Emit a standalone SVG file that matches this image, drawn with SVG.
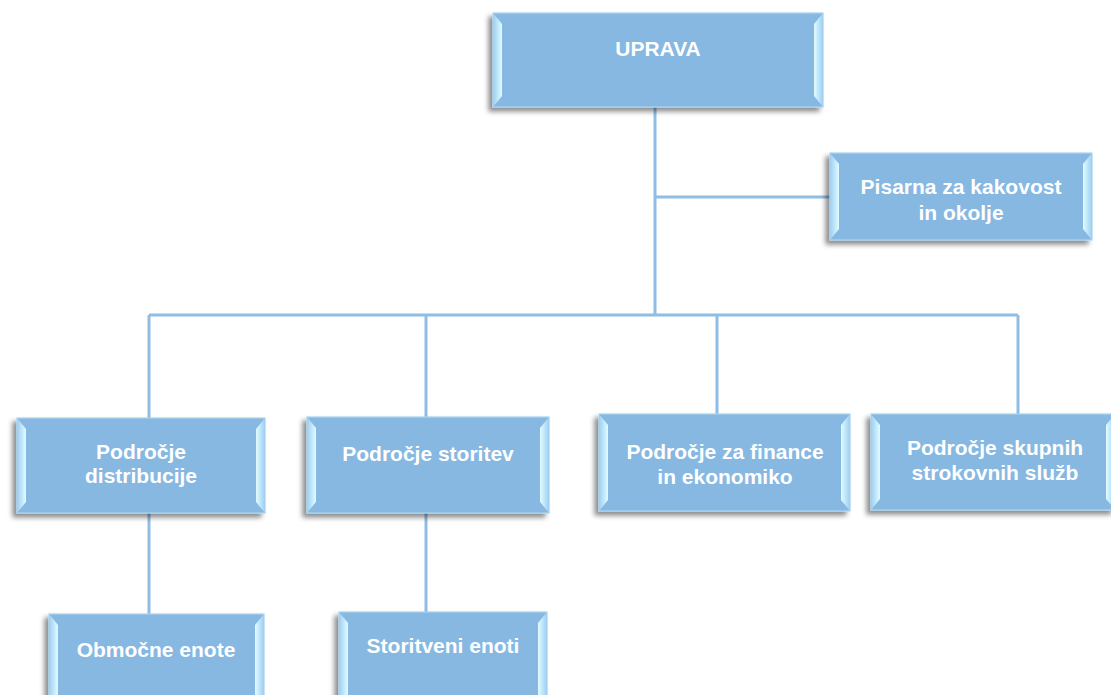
<svg xmlns="http://www.w3.org/2000/svg" width="1111" height="695" viewBox="0 0 1111 695">
<defs>
<filter id="sh" x="-10%" y="-20%" width="120%" height="150%">
<feGaussianBlur in="SourceAlpha" stdDeviation="2.5"/>
<feOffset dx="-4" dy="4" result="b"/>
<feFlood flood-color="#000" flood-opacity="0.45"/>
<feComposite in2="b" operator="in"/>
<feMerge><feMergeNode/><feMergeNode in="SourceGraphic"/></feMerge>
</filter>
<linearGradient id="bevL" x1="0" y1="0" x2="1" y2="0">
<stop offset="0" stop-color="#9fcdf0"/>
<stop offset="0.6" stop-color="#c4ebfc"/>
<stop offset="1" stop-color="#e2fbff"/>
</linearGradient>
<linearGradient id="bevR" x1="1" y1="0" x2="0" y2="0">
<stop offset="0" stop-color="#9fcdf0"/>
<stop offset="0.6" stop-color="#c4ebfc"/>
<stop offset="1" stop-color="#e2fbff"/>
</linearGradient>
<style>
.box{fill:#86b8e2;stroke:#a8d4f2;stroke-width:1.2}
.bl{fill:url(#bevL)}
.br{fill:url(#bevR)}
.t{font-family:"Liberation Sans",Arial,sans-serif;font-weight:bold;font-size:21px;fill:#ffffff;text-anchor:middle}
.c{stroke:#8ebde5;stroke-width:3;fill:none}
</style>
</defs>
<rect width="1111" height="695" fill="#ffffff"/>
<g id="connectors">
<path class="c" d="M655 107V315"/>
<path class="c" d="M655 197H832"/>
<path class="c" d="M149 315H1018"/>
<path class="c" d="M149 315V418"/>
<path class="c" d="M426 315V417"/>
<path class="c" d="M717 315V414"/>
<path class="c" d="M1018 315V414"/>
<path class="c" d="M149 513V614"/>
<path class="c" d="M426 513V612"/>
</g>
<g id="uprava">
<rect class="box" x="493" y="13" width="330" height="94" filter="url(#sh)"/>
<polygon class="bl" points="493,13 502,24 502,96 493,107"/>
<polygon class="br" points="823,13 814,24 814,96 823,107"/>
<text class="t" x="658" y="56">UPRAVA</text>
</g>
<g id="pisarna">
<rect class="box" x="830" y="153" width="262" height="87" filter="url(#sh)"/>
<polygon class="bl" points="830,153 839,164 839,229 830,240"/>
<polygon class="br" points="1092,153 1083,164 1083,229 1092,240"/>
<text class="t" x="961" y="194">Pisarna za kakovost</text>
<text class="t" x="961" y="220">in okolje</text>
</g>
<g id="distribucija">
<rect class="box" x="17" y="418" width="248" height="95" filter="url(#sh)"/>
<polygon class="bl" points="17,418 26,429 26,502 17,513"/>
<polygon class="br" points="265,418 256,429 256,502 265,513"/>
<text class="t" x="141" y="459">Področje</text>
<text class="t" x="141" y="483">distribucije</text>
</g>
<g id="storitve">
<rect class="box" x="307" y="417" width="242" height="96" filter="url(#sh)"/>
<polygon class="bl" points="307,417 316,428 316,502 307,513"/>
<polygon class="br" points="549,417 540,428 540,502 549,513"/>
<text class="t" x="428" y="461">Področje storitev</text>
</g>
<g id="finance">
<rect class="box" x="599" y="414" width="251" height="97" filter="url(#sh)"/>
<polygon class="bl" points="599,414 608,425 608,500 599,511"/>
<polygon class="br" points="850,414 841,425 841,500 850,511"/>
<text class="t" x="725" y="459">Področje za finance</text>
<text class="t" x="725" y="484">in ekonomiko</text>
</g>
<g id="skupne">
<rect class="box" x="871" y="414" width="244" height="96" filter="url(#sh)"/>
<polygon class="bl" points="871,414 880,425 880,499 871,510"/>
<polygon class="br" points="1115,414 1106,425 1106,499 1115,510"/>
<text class="t" x="995" y="455">Področje skupnih</text>
<text class="t" x="995" y="480">strokovnih služb</text>
</g>
<g id="obmocne">
<rect class="box" x="49" y="614" width="215" height="95" filter="url(#sh)"/>
<polygon class="bl" points="49,614 58,625 58,698 49,709"/>
<polygon class="br" points="264,614 255,625 255,698 264,709"/>
<text class="t" x="156" y="657">Območne enote</text>
</g>
<g id="storitveni">
<rect class="box" x="339" y="612" width="208" height="95" filter="url(#sh)"/>
<polygon class="bl" points="339,612 348,623 348,696 339,707"/>
<polygon class="br" points="547,612 538,623 538,696 547,707"/>
<text class="t" x="443" y="653">Storitveni enoti</text>
</g>
</svg>
